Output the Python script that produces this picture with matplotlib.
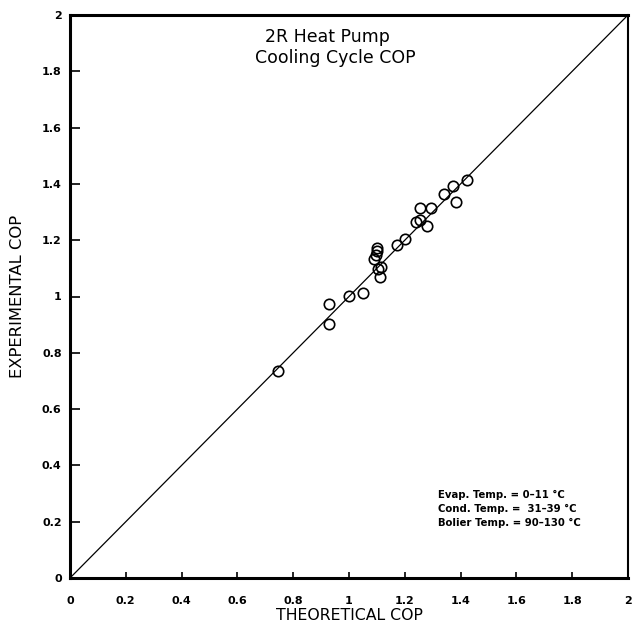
import matplotlib
matplotlib.use("Agg")
import matplotlib.pyplot as plt

theoretical = [0.746, 0.927, 0.927, 0.999, 1.051, 1.110, 1.105, 1.113, 1.089, 1.098,
               1.099, 1.099, 1.173, 1.200, 1.241, 1.253, 1.281, 1.253, 1.293, 1.341,
               1.373, 1.382, 1.424]
experimental = [0.735, 0.901, 0.972, 1.002, 1.011, 1.070, 1.097, 1.104, 1.132, 1.147,
                1.163, 1.171, 1.183, 1.203, 1.264, 1.272, 1.252, 1.313, 1.313, 1.363,
                1.394, 1.335, 1.414]

tick_values = [0, 0.2, 0.4, 0.6, 0.8, 1.0, 1.2, 1.4, 1.6, 1.8, 2.0]
tick_labels = ["0", "0.2", "0.4", "0.6", "0.8", "1", "1.2", "1.4", "1.6", "1.8", "2"]

title_lines = ["2R Heat Pump", "Cooling Cycle COP"]
note_lines = ["Evap. Temp. = 0\u201311 \u00b0C",
              "Cond. Temp. =  31\u201339 \u00b0C",
              "Bolier Temp. = 90\u2013130 \u00b0C"]

fig = plt.figure(figsize=(6.32, 6.27), dpi=100)
ax = fig.add_axes([70 / 632, 49 / 627, 558 / 632, 563 / 627])

# 1:1 reference line
ax.plot([0, 2], [0, 2], color="black", linewidth=0.9)

# Data points
ax.plot(theoretical, experimental, linestyle="none", marker="o", markersize=7.5,
        markerfacecolor="none", markeredgecolor="black", markeredgewidth=1.2)

ax.set_xlim(0, 2)
ax.set_ylim(0, 2)
ax.set_xticks(tick_values)
ax.set_xticklabels(tick_labels, fontsize=8, fontweight="bold")
ax.set_yticks(tick_values)
ax.set_yticklabels(tick_labels, fontsize=8, fontweight="bold")
ax.tick_params(axis="x", direction="in", length=4, width=1.2, pad=13)
ax.tick_params(axis="y", direction="in", length=7, width=1.2, pad=6)

for side in ["left", "bottom", "top"]:
    ax.spines[side].set_linewidth(2.2)
ax.spines["right"].set_linewidth(1.5)

ax.set_xlabel("THEORETICAL COP", fontsize=11.3)
ax.xaxis.set_label_coords(0.5, -0.053)
ax.set_ylabel("EXPERIMENTAL COP", fontsize=11.8)
ax.yaxis.set_label_coords(-0.081, 0.5)

# Title inside the axes
ax.text(0.923, 1.922, title_lines[0], fontsize=12.5, ha="center", va="center")
ax.text(0.952, 1.847, title_lines[1], fontsize=12.5, ha="center", va="center")

# Operating conditions note
for i, line in enumerate(note_lines):
    ax.text(1.318, 0.295 - i * 0.05, line, fontsize=7.3, fontweight="bold",
            ha="left", va="center")

fig.savefig("out.png", dpi=100)
